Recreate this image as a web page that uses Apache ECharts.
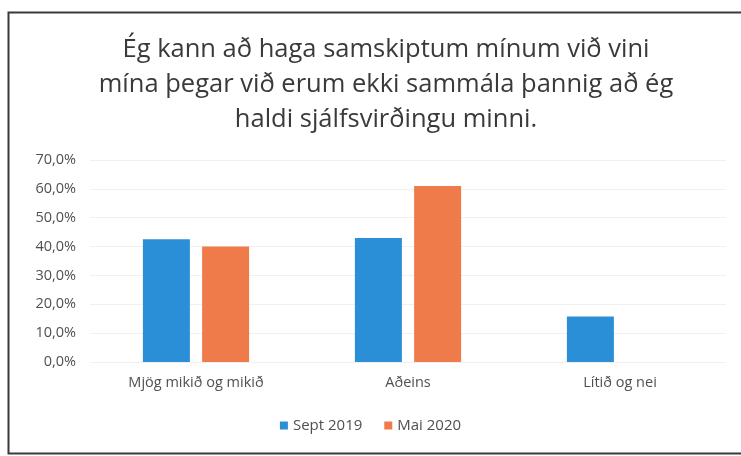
<!DOCTYPE html>
<html>
<head>
<meta charset="utf-8">
<script src="https://cdn.jsdelivr.net/npm/echarts@6/dist/echarts.min.js"></script>
<style>html,body{margin:0;padding:0;background:#fff}#c{width:741px;height:456px}</style>
</head>
<body>
<div id="c"></div>
<script>
const categories = ['Mjög mikið og mikið', 'Aðeins', 'Lítið og nei'];
const seriesNames = ['Sept 2019', 'Mai 2020'];
const sept2019 = [42.5, 43.0, 15.8];
const mai2020 = [40.0, 61.0, 0];
const yTicks = [0, 10, 20, 30, 40, 50, 60, 70];
const titleText = 'Ég kann að haga samskiptum mínum við vini\nmína þegar við erum ekki sammála þannig að ég\nhaldi sjálfsvirðingu minni.';

const chart = echarts.init(document.getElementById('c'), null, {renderer: 'canvas'});
chart.setOption({
  backgroundColor: '#fff',
  animation: false,
  title: {
    text: titleText,
    left: 381, top: 27, textAlign: 'center',
    textStyle: {fontFamily: 'Open Sans', fontSize: 25.5, fontWeight: 'normal', color: '#3a3a3a', lineHeight: 35}
  },
  graphic: [{
    type: 'rect', shape: {x: 8.5, y: 12.5, width: 800, height: 441},
    style: {fill: 'none', stroke: '#3a3a3a', lineWidth: 2}, silent: true
  }],
  legend: {
    data: seriesNames, bottom: 18, left: 'center', itemWidth: 8, itemHeight: 8, itemGap: 22,
    icon: 'rect',
    textStyle: {fontFamily: 'Open Sans', fontSize: 15, color: '#505050'}
  },
  grid: {left: 90, right: 15, top: 160, bottom: 94},
  xAxis: {
    type: 'category', data: categories,
    axisLine: {show: false}, axisTick: {show: false},
    axisLabel: {fontFamily: 'Open Sans', fontSize: 14.5, color: '#505050', margin: 13}
  },
  yAxis: {
    type: 'value', min: yTicks[0], max: yTicks[yTicks.length - 1], interval: 10,
    axisLine: {show: false}, axisTick: {show: false},
    axisLabel: {fontFamily: 'Open Sans', fontSize: 14.5, color: '#505050', margin: 14,
      formatter: v => v.toFixed(1).replace('.', ',') + '%'},
    splitLine: {lineStyle: {color: '#f0f0f0', width: 1}}
  },
  series: [
    {name: seriesNames[0], type: 'bar', data: sept2019, barWidth: 47, barGap: '26%',
     itemStyle: {color: '#2b8fd8'}},
    {name: seriesNames[1], type: 'bar', data: mai2020, barWidth: 47,
     itemStyle: {color: '#ef7b4b'}}
  ]
});
</script>
</body>
</html>
